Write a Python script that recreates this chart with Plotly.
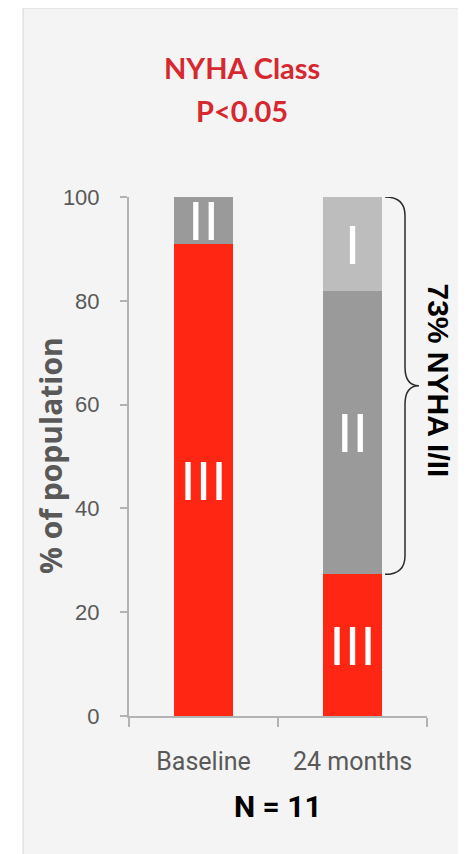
import plotly.graph_objects as go

# NYHA class distribution, % of population (N = 11)
categories = ["Baseline", "24 months"]
class_iii = [90.9, 27.3]
class_ii = [9.1, 54.5]
class_i = [0.0, 18.2]
labels_iii = ["III", "III"]
labels_ii = ["II", "II"]
labels_i = ["", "I"]
y_ticks = [0, 20, 40, 60, 80, 100]

# the page has an 8px body margin, so the figure is 8px smaller
OFF = 8
W, H = 466 - OFF, 854 - OFF
L, R, T, B = 129 - OFF, 39, 197 - OFF, 138
pw, ph = W - L - R, H - T - B


def px_x(p):
    # page pixel -> paper x
    return (p - OFF - L) / pw


def px_y(p):
    # page pixel -> paper y
    return (H - B - (p - OFF)) / ph


narrow = "Liberation Sans Narrow, Arial Narrow, Roboto, sans-serif"
bar_font = dict(family="Liberation Sans, Arial", size=56, color="white")

fig = go.Figure()
for vals, txt, col in [(class_iii, labels_iii, "#ff2613"),
                       (class_ii, labels_ii, "#9a9a9a"),
                       (class_i, labels_i, "#bdbdbd")]:
    fig.add_trace(go.Bar(
        x=categories, y=vals, text=txt, marker_color=col, marker_line_width=0,
        width=0.4, textposition="inside", insidetextanchor="middle",
        textangle=0, constraintext="none", textfont=bar_font,
        hoverinfo="skip",
    ))

# grey panel behind the chart
fig.add_shape(type="rect", xref="paper", yref="paper", layer="below",
              x0=px_x(23), x1=px_x(462), y0=px_y(870), y1=px_y(8),
              fillcolor="#f4f4f4", line=dict(color="#d6d6d6", width=1))

# curly brace spanning classes I + II at 24 months
top = class_iii[1] + class_ii[1] + class_i[1]
bot = class_iii[1]
mid = (top + bot) / 2
r = 3.6
xa, xb, xc = px_x(385), px_x(405), px_x(419)
brace = (f"M {xa},{top} Q {xb},{top} {xb},{top - r} L {xb},{mid + r} "
         f"Q {xb},{mid} {xc},{mid} Q {xb},{mid} {xb},{mid - r} "
         f"L {xb},{bot + r} Q {xb},{bot} {xa},{bot}")
fig.add_shape(type="path", path=brace, xref="paper", yref="y",
              line=dict(color="#2b2b2b", width=1.5))


def note(text, x, y, font, yref="paper", angle=0):
    fig.add_annotation(text=text, xref="paper", yref=yref, x=x, y=y,
                       xanchor="center", yanchor="middle", textangle=angle,
                       showarrow=False, font=font)


pct = round(class_i[1] + class_ii[1])
note(f"<b>{pct}% NYHA I/II</b>", px_x(439), mid + 1,
     dict(family="Liberation Sans, Arial", size=30, color="black"), yref="y", angle=90)
note("<b>N = 11</b>", 0.5, px_y(806),
     dict(family=narrow, size=30, color="black"))
note("<b>% of population</b>", px_x(50), px_y(456),
     dict(family="Open Sans", size=30, color="#595959"), angle=-90)
title_font = dict(family="Lato, Open Sans", size=29, color="#d7282f")
note("<b>NYHA Class</b>", px_x(242), px_y(68), title_font)
note("<b>P<0.05</b>", px_x(242), px_y(110), title_font)

fig.update_layout(
    width=W, height=H, barmode="stack", showlegend=False,
    margin=dict(l=L, r=R, t=T, b=B),
    paper_bgcolor="white", plot_bgcolor="rgba(0,0,0,0)",
    xaxis=dict(showgrid=False, showline=True, linecolor="#b3b3b3", linewidth=2,
               ticks="outside", tickson="boundaries", ticklen=9, tickwidth=2,
               tickcolor="#b3b3b3", ticklabelstandoff=22, automargin=False,
               tickfont=dict(family=narrow, size=25, color="#595959")),
    yaxis=dict(range=[0, 100], tickvals=y_ticks, showgrid=False, zeroline=False,
               showline=True, linecolor="#b3b3b3", linewidth=2,
               ticks="outside", ticklen=7, tickwidth=2, tickcolor="#b3b3b3",
               ticklabelstandoff=16, automargin=False,
               tickfont=dict(family="Liberation Sans, Arial", size=22, color="#595959")),
)

fig.write_html("out.html")
